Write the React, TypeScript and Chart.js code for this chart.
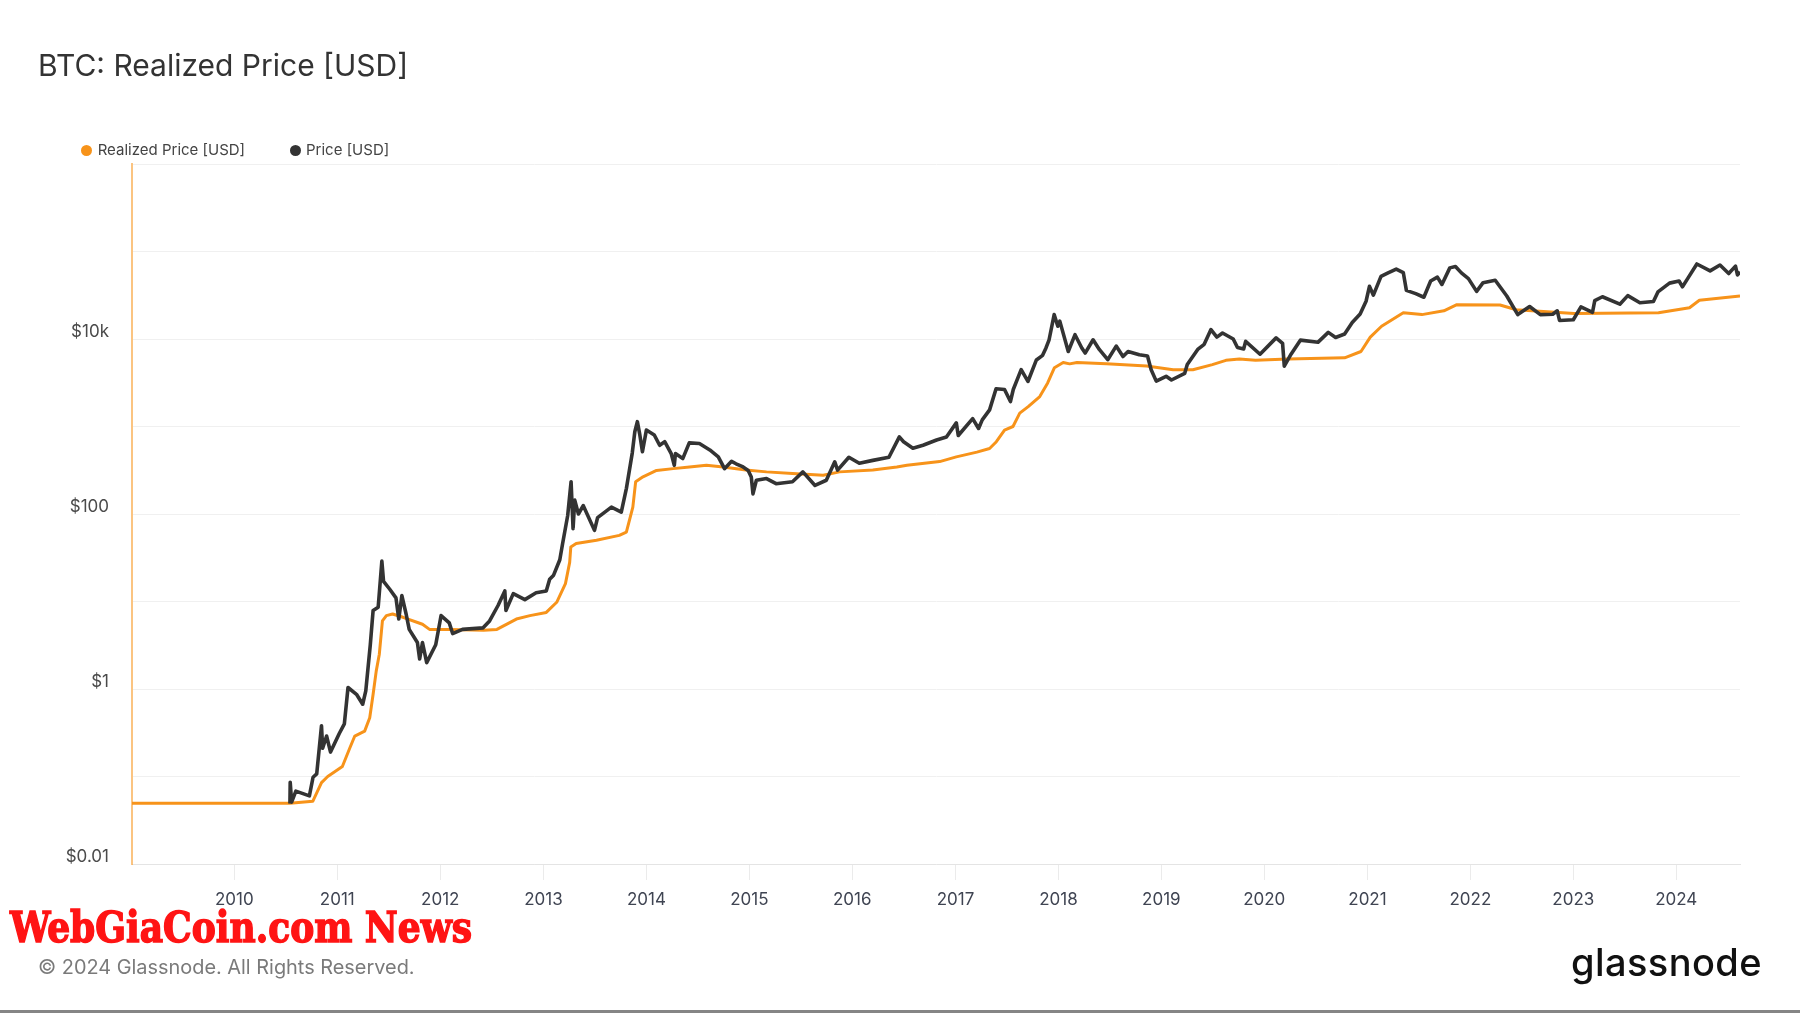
import React, { useEffect, useLayoutEffect, useRef, useState } from "react";
import { Chart, registerables } from "chart.js";

Chart.register(...registerables);

const chartTitle = "BTC: Realized Price [USD]";
const seriesNames = ["Realized Price [USD]", "Price [USD]"];
const seriesColors = ["#f7931a", "#333333"];

const realizedDates = [
  "2009-01-03", "2010-07-17", "2010-10-06", "2010-11-06", "2010-11-28", "2011-01-19", "2011-02-14",
  "2011-03-04", "2011-04-08", "2011-04-26", "2011-05-08", "2011-05-19", "2011-05-30", "2011-06-10",
  "2011-06-24", "2011-07-16", "2011-08-22", "2011-10-30", "2011-11-24", "2012-02-03", "2012-06-03",
  "2012-07-20", "2012-09-27", "2012-11-14", "2013-01-11", "2013-02-17", "2013-03-20", "2013-04-04",
  "2013-04-08", "2013-04-27", "2013-07-08", "2013-09-27", "2013-10-22", "2013-11-14", "2013-11-24",
  "2013-12-20", "2014-02-06", "2014-04-06", "2014-06-03", "2014-08-02", "2014-09-30", "2014-12-20",
  "2015-03-03", "2015-06-03", "2015-09-20", "2015-11-17", "2016-03-14", "2016-06-07", "2016-07-13",
  "2016-11-06", "2017-01-04", "2017-03-18", "2017-05-02", "2017-05-26", "2017-06-24", "2017-07-24",
  "2017-08-17", "2017-09-16", "2017-10-27", "2017-11-24", "2017-12-18", "2018-01-18", "2018-02-10",
  "2018-03-08", "2018-06-20", "2018-11-10", "2019-02-12", "2019-04-23", "2019-07-01", "2019-08-18",
  "2019-10-05", "2019-12-01", "2020-03-25", "2020-10-12", "2020-12-09", "2021-01-11", "2021-02-20",
  "2021-05-08", "2021-07-13", "2021-09-29", "2021-11-14", "2022-04-16", "2022-06-13", "2023-01-04",
  "2023-10-30", "2024-02-17", "2024-03-23", "2024-08-14",
];
const realizedValues = [
  0.0495, 0.0495, 0.052, 0.085, 0.1, 0.13, 0.21,
  0.29, 0.33, 0.47, 0.87, 1.6, 2.5, 6.0,
  6.9, 7.2, 6.6, 5.5, 4.8, 4.8, 4.7,
  4.8, 6.3, 6.9, 7.5, 9.8, 16, 28,
  42, 46, 50, 57, 62, 120, 234,
  266, 315, 330, 345, 360, 345, 318,
  303, 290, 277, 303, 318, 345, 360,
  397, 450, 510, 560, 670, 910, 1000,
  1420, 1690, 2200, 3150, 4700, 5400, 5200,
  5400, 5200, 4900, 4450, 4450, 5100, 5700,
  5900, 5700, 5900, 6100, 7200, 10500, 14000,
  20000, 19000, 21000, 24700, 24500, 21600, 19600,
  20000, 22800, 27700, 31000,
];

const priceDates = [
  "2010-07-17", "2010-07-18", "2010-07-23", "2010-08-07", "2010-09-24", "2010-10-07", "2010-10-20",
  "2010-11-06", "2010-11-10", "2010-11-24", "2010-12-08", "2011-01-08", "2011-01-26", "2011-02-08",
  "2011-03-10", "2011-04-01", "2011-04-12", "2011-04-28", "2011-05-08", "2011-05-26", "2011-06-08",
  "2011-06-14", "2011-07-06", "2011-07-28", "2011-08-07", "2011-08-18", "2011-09-02", "2011-09-13",
  "2011-10-12", "2011-10-20", "2011-10-30", "2011-11-14", "2011-12-16", "2012-01-04", "2012-02-02",
  "2012-02-14", "2012-03-20", "2012-06-01", "2012-06-24", "2012-07-24", "2012-08-17", "2012-08-21",
  "2012-09-16", "2012-10-27", "2012-12-06", "2013-01-11", "2013-01-23", "2013-02-06", "2013-02-28",
  "2013-03-10", "2013-03-28", "2013-04-09", "2013-04-16", "2013-04-22", "2013-05-05", "2013-05-22",
  "2013-07-01", "2013-07-12", "2013-08-30", "2013-10-04", "2013-10-22", "2013-11-12", "2013-11-21",
  "2013-11-30", "2013-12-08", "2013-12-18", "2014-01-01", "2014-01-29", "2014-02-17", "2014-03-07",
  "2014-03-30", "2014-04-10", "2014-04-14", "2014-05-10", "2014-06-02", "2014-07-08", "2014-08-14",
  "2014-09-13", "2014-10-05", "2014-10-30", "2014-11-15", "2014-12-10", "2014-12-28", "2015-01-08",
  "2015-01-14", "2015-01-26", "2015-03-03", "2015-04-06", "2015-06-03", "2015-07-10", "2015-08-22",
  "2015-10-01", "2015-10-31", "2015-11-10", "2015-12-20", "2016-01-26", "2016-03-14", "2016-05-10",
  "2016-06-16", "2016-07-01", "2016-08-03", "2016-09-08", "2016-10-26", "2016-11-30", "2017-01-04",
  "2017-01-11", "2017-03-03", "2017-03-24", "2017-04-06", "2017-05-02", "2017-05-25", "2017-06-24",
  "2017-07-15", "2017-07-25", "2017-08-22", "2017-09-15", "2017-10-15", "2017-11-06", "2017-11-18",
  "2017-11-29", "2017-12-17", "2017-12-30", "2018-01-06", "2018-02-05", "2018-03-01", "2018-03-25",
  "2018-04-06", "2018-05-04", "2018-05-26", "2018-06-25", "2018-07-25", "2018-08-18", "2018-09-05",
  "2018-10-15", "2018-11-13", "2018-11-26", "2018-12-14", "2019-01-18", "2019-02-06", "2019-03-25",
  "2019-04-03", "2019-05-10", "2019-06-02", "2019-06-26", "2019-07-17", "2019-08-06", "2019-09-13",
  "2019-09-28", "2019-10-20", "2019-10-27", "2019-12-17", "2020-02-12", "2020-03-06", "2020-03-12",
  "2020-04-05", "2020-05-08", "2020-07-10", "2020-08-15", "2020-09-10", "2020-10-12", "2020-11-08",
  "2020-12-06", "2020-12-27", "2021-01-08", "2021-01-22", "2021-02-18", "2021-03-15", "2021-04-13",
  "2021-05-08", "2021-05-19", "2021-06-21", "2021-07-20", "2021-08-13", "2021-09-06", "2021-09-22",
  "2021-10-20", "2021-11-09", "2021-11-30", "2021-12-25", "2022-01-23", "2022-02-15", "2022-03-30",
  "2022-05-10", "2022-06-18", "2022-07-30", "2022-09-06", "2022-10-20", "2022-11-05", "2022-11-13",
  "2023-01-01", "2023-01-28", "2023-03-10", "2023-03-18", "2023-04-14", "2023-06-15", "2023-07-13",
  "2023-08-25", "2023-10-12", "2023-10-28", "2023-12-08", "2024-01-11", "2024-01-23", "2024-02-12",
  "2024-03-14", "2024-04-30", "2024-06-04", "2024-07-05", "2024-07-29", "2024-08-05", "2024-08-14",
];
const priceValues = [
  0.049, 0.086, 0.051, 0.068, 0.06, 0.098, 0.107,
  0.38, 0.21, 0.29, 0.19, 0.31, 0.4, 1.04,
  0.87, 0.67, 0.95, 3.2, 7.9, 8.6, 29,
  17, 13.8, 11, 6.3, 11.7, 7.2, 4.8,
  3.4, 2.2, 3.4, 2.0, 3.2, 6.9, 5.7,
  4.3, 4.8, 5.0, 6.0, 9.0, 13.2, 7.9,
  12.3, 10.5, 12.6, 13.2, 18, 20, 30,
  46, 96, 234, 68, 144, 100, 125,
  65, 91, 120, 105, 195, 500, 870,
  1135, 830, 515, 910, 800, 610, 670,
  490, 360, 490, 430, 650, 640, 540,
  450, 330, 400, 375, 345, 315, 265,
  170, 243, 254, 222, 234, 303, 212,
  243, 395, 317, 445, 380, 410, 445,
  760, 670, 565, 610, 700, 760, 1100,
  790, 1230, 950, 1190, 1550, 2700, 2650,
  1930, 2650, 4470, 3270, 5760, 6500, 7900,
  9800, 19000, 14000, 16000, 7200, 11200, 7900,
  6900, 9800, 7600, 5800, 8300, 6300, 7200,
  6600, 6400, 4450, 3300, 3750, 3400, 4050,
  5100, 7600, 8700, 12800, 10500, 11700, 10000,
  8000, 7700, 9400, 6700, 10300, 8900, 4900,
  6700, 9700, 9200, 11900, 10400, 11400, 15400,
  19300, 27000, 40000, 31700, 52000, 57000, 63000,
  57500, 36000, 33000, 30000, 46000, 51000, 42000,
  65000, 67500, 57000, 49000, 35000, 44000, 47000,
  31000, 19000, 23500, 19000, 19200, 21000, 16300,
  16600, 23300, 20200, 27500, 30400, 25000, 31300,
  26000, 26800, 34500, 43500, 46000, 39500, 50000,
  72000, 60000, 70000, 56000, 68000, 54000, 58500,
];

const xStartDate = "2009-01-03";
const xEndDate = "2024-08-14";
const xTickYears = [2010, 2011, 2012, 2013, 2014, 2015, 2016, 2017, 2018, 2019, 2020, 2021, 2022, 2023, 2024];
const yTickValues = [0.01, 0.1, 1, 10, 100, 1000, 10000, 100000, 1000000];
const yTickLabels = ["$0.01", "", "$1", "", "$100", "", "$10k", "", ""];

const toMs = (d: string) => Date.parse(d + "T00:00:00Z");

export default function App() {
  const canvasRef = useRef<HTMLCanvasElement | null>(null);
  const wmRef = useRef<HTMLSpanElement | null>(null);
  const [wmScale, setWmScale] = useState(1);

  useLayoutEffect(() => {
    if (wmRef.current) {
      const w = wmRef.current.getBoundingClientRect().width;
      if (w > 0) setWmScale(462 / w);
    }
  }, []);

  useEffect(() => {
    if (!canvasRef.current) return;
    const realizedPts = realizedDates.map((d, i) => ({ x: toMs(d), y: realizedValues[i] }));
    const pricePts = priceDates.map((d, i) => ({ x: toMs(d), y: priceValues[i] }));
    const chart = new Chart(canvasRef.current, {
      type: "line",
      data: {
        datasets: [
          {
            label: seriesNames[0],
            data: realizedPts,
            borderColor: seriesColors[0],
            backgroundColor: seriesColors[0],
            borderWidth: 3,
            pointRadius: 0,
            tension: 0,
            borderJoinStyle: "round",
            order: 1,
          },
          {
            label: seriesNames[1],
            data: pricePts,
            borderColor: seriesColors[1],
            backgroundColor: seriesColors[1],
            borderWidth: 3.6,
            pointRadius: 0,
            tension: 0,
            borderJoinStyle: "round",
            order: 0,
          },
        ],
      },
      options: {
        animation: false,
        responsive: false,
        events: [],
        layout: { padding: { left: 32, right: 60, top: 164, bottom: 89 } },
        plugins: {
          legend: { display: false },
          tooltip: { enabled: false },
          title: { display: false },
        },
        scales: {
          x: {
            type: "linear",
            min: toMs(xStartDate),
            max: toMs(xEndDate),
            afterBuildTicks: (s: any) => {
              s.ticks = xTickYears.map((y) => ({ value: Date.UTC(y, 0, 1) }));
            },
            afterFit: (s: any) => {
              s.height = 60;
            },
            ticks: {
              autoSkip: false,
              maxRotation: 0,
              padding: 10,
              color: "#3f4452",
              font: { family: "Inter", size: 17 },
              callback: (v: any) => String(new Date(Number(v)).getUTCFullYear()),
            },
            grid: {
              drawOnChartArea: false,
              drawTicks: true,
              tickLength: 16,
              color: "#ebebeb",
            },
            border: { display: true, color: "#e4e4e4", width: 1 },
          },
          y: {
            type: "logarithmic",
            min: 0.01,
            max: 1000000,
            afterBuildTicks: (s: any) => {
              s.ticks = yTickValues.map((v) => ({ value: v }));
            },
            afterFit: (s: any) => {
              s.width = 100;
            },
            ticks: {
              autoSkip: false,
              padding: 23,
              labelOffset: -7,
              color: "#4a4a4a",
              font: { family: "Inter", size: 17 },
              callback: (v: any) => {
                const idx = yTickValues.findIndex(
                  (t) => Math.abs(Math.log10(t) - Math.log10(Number(v))) < 1e-6
                );
                return idx >= 0 ? yTickLabels[idx] : "";
              },
            },
            grid: { color: "#f0f0f0", drawTicks: false, lineWidth: 1 },
            border: { display: true, color: "rgba(247,147,26,0.55)", width: 2 },
          },
        },
      },
    });
    return () => chart.destroy();
  }, []);

  const legendItem = (i: number, left: number) => (
    <div
      key={i}
      style={{
        position: "absolute",
        left,
        top: 142,
        height: 15,
        lineHeight: "15px",
        fontSize: 15,
        color: "#444",
        whiteSpace: "nowrap",
      }}
    >
      <span
        style={{
          position: "absolute",
          left: -5.5,
          top: 2.5,
          width: 11,
          height: 11,
          borderRadius: "50%",
          background: seriesColors[i],
        }}
      />
      <span style={{ position: "absolute", left: 11, top: 0 }}>{seriesNames[i]}</span>
    </div>
  );

  return (
    <div
      style={{
        position: "fixed",
        left: 0,
        top: 0,
        width: 1800,
        height: 1013,
        background: "#ffffff",
        overflow: "hidden",
        fontFamily: "Inter, 'Noto Sans', sans-serif",
      }}
    >
      <canvas
        ref={canvasRef}
        width={1800}
        height={1013}
        style={{ position: "absolute", left: 0, top: 0, width: 1800, height: 1013 }}
      />
      <div
        style={{
          position: "absolute",
          left: 38,
          top: 49.8,
          fontSize: 30,
          lineHeight: "30px",
          color: "#333",
          whiteSpace: "nowrap",
        }}
      >
        {chartTitle}
      </div>
      {legendItem(0, 86.7)}
      {legendItem(1, 295)}
      <div
        style={{
          position: "absolute",
          left: 10,
          top: 905.6,
          fontSize: 43,
          lineHeight: "43px",
          color: "#ff1414",
          fontFamily: "'DejaVu Serif Condensed', 'DejaVu Serif', serif",
          fontWeight: 700,
          whiteSpace: "nowrap",
          WebkitTextStroke: "1.4px #ff1414",
        }}
      >
        <span
          ref={wmRef}
          style={{
            display: "inline-block",
            transform: `scaleX(${wmScale})`,
            transformOrigin: "left center",
          }}
        >
          WebGiaCoin.com News
        </span>
      </div>
      <div
        style={{
          position: "absolute",
          left: 38,
          top: 957.8,
          fontSize: 19.9,
          lineHeight: "19.9px",
          color: "#7a7a7a",
          whiteSpace: "nowrap",
        }}
      >
        © 2024 Glassnode. All Rights Reserved.
      </div>
      <div
        style={{
          position: "absolute",
          left: 1571,
          top: 943.2,
          fontSize: 38,
          lineHeight: "38px",
          fontWeight: 500,
          letterSpacing: 0.4,
          color: "#111",
          whiteSpace: "nowrap",
        }}
      >
        glassnode
      </div>
      <div
        style={{
          position: "absolute",
          left: 0,
          top: 1010,
          width: 1800,
          height: 3,
          background: "#858585",
        }}
      />
    </div>
  );
}
